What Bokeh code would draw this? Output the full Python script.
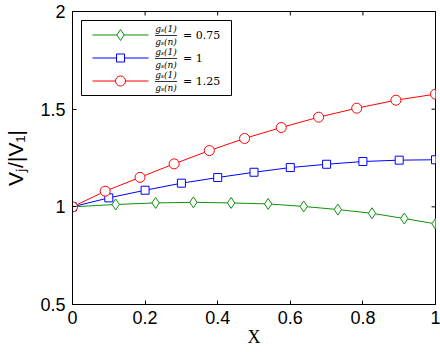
from bokeh.plotting import figure
from bokeh.models import Range1d, FixedTicker
from bokeh.core.properties import value
from bokeh.embed import file_html
from bokeh.resources import INLINE

# ---------------- data ----------------
x_green = [0.0, 0.119, 0.229, 0.333, 0.437, 0.539, 0.637, 0.731, 0.825, 0.914, 1.0]
y_green = [1.0, 1.012, 1.020, 1.023, 1.020, 1.015, 1.002, 0.986, 0.967, 0.940, 0.913]

x_blue = [0.0, 0.1, 0.2, 0.3, 0.4, 0.5, 0.6, 0.7, 0.8, 0.9, 1.0]
y_blue = [1.0, 1.046, 1.085, 1.121, 1.150, 1.177, 1.201, 1.218, 1.232, 1.239, 1.241]

x_red = [0.0, 0.09, 0.186, 0.28, 0.377, 0.474, 0.575, 0.678, 0.783, 0.891, 1.0]
y_red = [1.0, 1.08, 1.151, 1.22, 1.288, 1.35, 1.406, 1.459, 1.505, 1.546, 1.577]

ratio_values = [0.75, 1, 1.25]

x_ticks = [0, 0.2, 0.4, 0.6, 0.8, 1]
x_tick_labels = ["0", "0.2", "0.4", "0.6", "0.8", "1"]
y_ticks = [0.5, 1, 1.5, 2]
y_tick_labels = ["0.5", "1", "1.5", "2"]

x_title = "X"
y_title = "Vⱼ/|V₁|"
frac_num = "gₛ(1)"
frac_den = "gₛ(n)"

# ---------------- layout ----------------
W, H = 440, 352
BL, BR, BT, BB = 72, 5, 11, 48
FW = W - BL - BR
FH = H - BT - BB
X0, X1 = 0.0, 1.0
Y0, Y1 = 0.5, 2.0


def px2x(px):
    return X0 + (px - BL) / FW * (X1 - X0)


def py2y(py):
    return Y1 - (py - BT) / FH * (Y1 - Y0)


p = figure(width=W, height=H, x_range=Range1d(X0, X1), y_range=Range1d(Y0, Y1),
           output_backend="svg", toolbar_location=None,
           min_border_left=BL, min_border_right=BR, min_border_top=BT, min_border_bottom=BB)
p.xgrid.visible = False
p.ygrid.visible = False
p.outline_line_color = "black"
p.outline_line_width = 1
p.background_fill_color = "white"
p.border_fill_color = "white"

for ax, ticks, labels, standoff in ((p.xaxis[0], x_ticks, x_tick_labels, 6),
                                    (p.yaxis[0], y_ticks, y_tick_labels, 7)):
    ax.ticker = FixedTicker(ticks=ticks)
    ax.major_label_overrides = {t: l for t, l in zip(ticks, labels)}
    ax.major_tick_in = 4
    ax.major_tick_out = 0
    ax.minor_tick_line_color = None
    ax.axis_line_color = "black"
    ax.major_tick_line_color = "black"
    ax.major_label_text_font = "Liberation Sans"
    ax.major_label_text_font_size = "18px"
    ax.major_label_text_color = "black"
    ax.major_label_standoff = standoff

p.xaxis.axis_label = x_title
p.xaxis.axis_label_text_font = "Liberation Serif"
p.xaxis.axis_label_text_font_style = "normal"
p.xaxis.axis_label_text_font_size = "18px"
p.xaxis.axis_label_text_color = "black"
p.xaxis.axis_label_standoff = 0

p.yaxis.axis_label = y_title
p.yaxis.axis_label_text_font = "Liberation Sans"
p.yaxis.axis_label_text_font_style = "normal"
p.yaxis.axis_label_text_font_size = "21px"
p.yaxis.axis_label_text_color = "black"
p.yaxis.axis_label_standoff = 10

# mirrored inward ticks on top and right edges
TICK = 4
p.segment(x0=x_ticks, y0=[Y1] * len(x_ticks), x1=x_ticks,
          y1=[Y1 - TICK / FH * (Y1 - Y0)] * len(x_ticks), line_color="black", line_width=1)
p.segment(x0=[X1] * len(y_ticks), y0=y_ticks, x1=[X1 - TICK / FW * (X1 - X0)] * len(y_ticks),
          y1=y_ticks, line_color="black", line_width=1)

GREEN = "#0f900f"
BLUE = "#0000ff"
RED = "#ff0000"

series = [
    (x_green, y_green, GREEN, "diamond", 11),
    (x_blue, y_blue, BLUE, "square", 8),
    (x_red, y_red, RED, "circle", 10),
]

for xs, ys, col, mk, sz in series:
    p.line(xs, ys, line_color=col, line_width=1)
    p.scatter(xs, ys, marker=mk, size=sz, line_color=col, fill_color="white", line_width=1)

# ---------------- legend (drawn by hand) ----------------
LB_L, LB_R, LB_T, LB_B = 81, 231, 20, 95
p.quad(left=[px2x(LB_L)], right=[px2x(LB_R)], top=[py2y(LB_T)], bottom=[py2y(LB_B)],
       fill_color="white", line_color="black", line_width=1)

for i, ((xs, ys, col, mk, sz), rv) in enumerate(zip(series, ratio_values)):
    c = 34.5 + 23 * i
    p.line([px2x(92), px2x(148)], [py2y(c), py2y(c)], line_color=col, line_width=1)
    p.scatter([px2x(120)], [py2y(c)], marker=mk, size=sz, line_color=col,
              fill_color="white", line_width=1)
    fx = 165.5
    p.text(x=[px2x(fx)], y=[py2y(c - 1)], text=[frac_num], text_align="center",
           text_baseline="bottom", text_font=value("DejaVu Serif"), text_font_style="italic",
           text_font_size=value("9px"), text_color="black")
    p.text(x=[px2x(fx)], y=[py2y(c + 1.5)], text=[frac_den], text_align="center",
           text_baseline="top", text_font=value("DejaVu Serif"), text_font_style="italic",
           text_font_size=value("9px"), text_color="black")
    p.segment(x0=[px2x(fx - 11)], y0=[py2y(c + 0.5)], x1=[px2x(fx + 11)], y1=[py2y(c + 0.5)],
              line_color="black", line_width=0.8)
    p.text(x=[px2x(182.5)], y=[py2y(c)], text=[f"= {rv:g}"], text_align="left",
           text_baseline="middle", text_font=value("DejaVu Serif"),
           text_font_size=value("11px"), text_color="black")

open("out.html", "w").write(file_html(p, INLINE))
